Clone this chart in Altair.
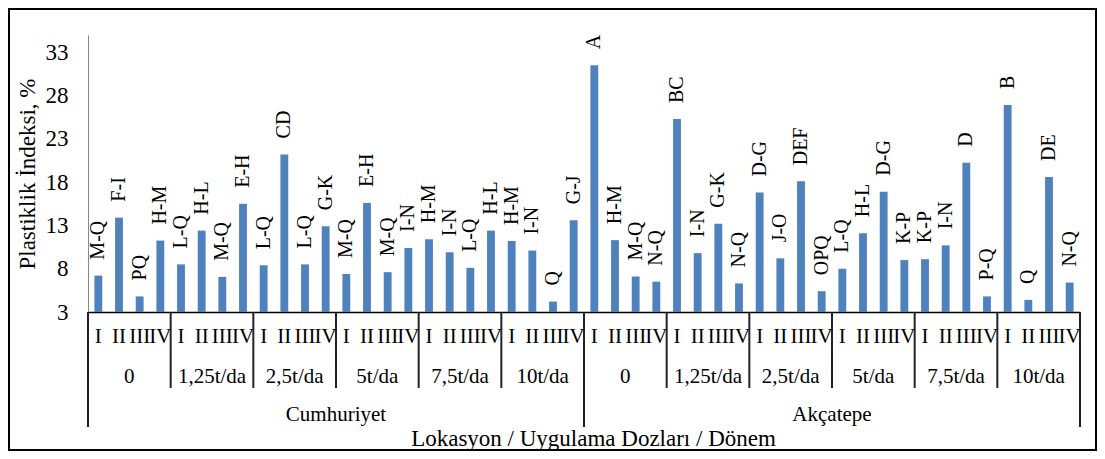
import altair as alt
import pandas as pd

locations = ["Cumhuriyet", "Akçatepe"]
doses = ["0", "1,25t/da", "2,5t/da", "5t/da", "7,5t/da", "10t/da"]
periods = ["I", "II", "III", "IV"]

values = [
    7.2, 13.9, 4.8, 11.25, 8.5, 12.4, 7.06, 15.5, 8.4, 21.2, 8.5, 12.9,
    7.4, 15.6, 7.6, 10.4, 11.4, 9.9, 8.1, 12.4, 11.2, 10.1, 4.2, 13.6,
    31.5, 11.3, 7.1, 6.5, 25.3, 9.8, 13.2, 6.3, 16.8, 9.2, 18.1, 5.4,
    8.0, 12.1, 16.9, 9.0, 9.1, 10.7, 20.25, 4.8, 26.9, 4.4, 18.6, 6.4,
]
letters = [
    "M-Q", "F-I", "PQ", "H-M", "L-Q", "H-L", "M-Q", "E-H", "L-Q", "CD", "L-Q", "G-K",
    "M-Q", "E-H", "M-Q", "I-N", "H-M", "I-N", "L-Q", "H-L", "H-M", "I-N", "Q", "G-J",
    "A", "H-M", "M-Q", "N-Q", "BC", "I-N", "G-K", "N-Q", "D-G", "J-O", "DEF", "OPQ",
    "L-Q", "H-L", "D-G", "K-P", "K-P", "I-N", "D", "P-Q", "B", "Q", "DE", "N-Q",
]
y_ticks = [3, 8, 13, 18, 23, 28, 33]

FONT = "Liberation Serif"
BLUE = "#4F81BD"
W, H = 992, 277

rows = []
i = 0
for loc in locations:
    for d in doses:
        for p in periods:
            rows.append({"idx": i, "loc": loc, "dose": d, "period": p,
                         "value": values[i], "letter": letters[i], "base": y_ticks[0],
                         "x_lo": i + 0.31, "x_hi": i + 0.69, "xc": i + 0.5})
            i += 1
df = pd.DataFrame(rows)

n = len(df)
dose_df = pd.DataFrame([{"dose": d, "xc": 4 * k + 2}
                        for k, d in enumerate(doses * len(locations))])
loc_df = pd.DataFrame([{"loc": l, "xc": 24 * k + 12} for k, l in enumerate(locations)])
sep_short = pd.DataFrame({"b": [b for b in range(4, n, 4) if b % 24 != 0]})
sep_long = pd.DataFrame({"b": [0, 24, 48]})
frame_df = pd.DataFrame({"k": [0]})

xscale = alt.Scale(domain=[0, n], nice=False, zero=False)
yscale = alt.Scale(domain=[3, 35], nice=False, zero=False)

base = alt.Chart(df)

bars = base.mark_bar(color=BLUE).encode(
    x=alt.X("x_lo:Q", scale=xscale,
            axis=alt.Axis(labels=False, ticks=False, grid=False, domainColor="black",
                          domainWidth=1.5,
                          title="Lokasyon / Uygulama Dozları / Dönem",
                          titleFont=FONT, titleFontSize=23, titleFontWeight="normal",
                          titleColor="black", titleX=505, titleY=126,
                          titleAlign="center", titleBaseline="middle")),
    x2="x_hi:Q",
    y=alt.Y("value:Q", scale=yscale,
            axis=alt.Axis(values=y_ticks, ticks=False, grid=False, domainColor="#868686",
                          labelPadding=20, labelFont=FONT, labelFontSize=23,
                          labelColor="black",
                          title="Plastiklik İndeksi, %",
                          titleFont=FONT, titleFontSize=23, titleFontWeight="normal",
                          titleColor="black", titleX=-61, titleY=H / 2,
                          titleAngle=270, titleAlign="center", titleBaseline="middle")),
    y2="base:Q",
)

bar_labels = base.mark_text(angle=270, align="left", baseline="middle", dx=16,
                            font=FONT, fontSize=20, color="black").encode(
    x=alt.X("xc:Q", scale=xscale), y=alt.Y("value:Q", scale=yscale), text="letter:N")

period_labels = base.mark_text(baseline="middle", font=FONT, fontSize=21,
                               color="black").encode(
    x=alt.X("xc:Q", scale=xscale), y=alt.value(H + 25), text="period:N")

dose_labels = alt.Chart(dose_df).mark_text(baseline="middle", font=FONT, fontSize=21,
                                           color="black").encode(
    x=alt.X("xc:Q", scale=xscale), y=alt.value(H + 65), text="dose:N")

loc_labels = alt.Chart(loc_df).mark_text(baseline="middle", font=FONT, fontSize=21,
                                         color="black").encode(
    x=alt.X("xc:Q", scale=xscale), y=alt.value(H + 103), text="loc:N")

short_rules = alt.Chart(sep_short).mark_rule(color="#222222", strokeWidth=2).encode(
    x=alt.X("b:Q", scale=xscale), y=alt.value(H), y2=alt.value(H + 76))

long_rules = alt.Chart(sep_long).mark_rule(color="#222222", strokeWidth=2).encode(
    x=alt.X("b:Q", scale=xscale), y=alt.value(H), y2=alt.value(H + 115))

frame = alt.Chart(frame_df).mark_rect(fill=None, stroke="black", strokeWidth=2).encode(
    x=alt.value(-79), x2=alt.value(W + 16), y=alt.value(-26), y2=alt.value(H + 138))

chart = alt.layer(frame, bars, bar_labels, period_labels, dose_labels, loc_labels,
                  short_rules, long_rules).properties(
    width=W, height=H,
    autosize=alt.AutoSizeParams(type="none"),
    padding={"left": 80, "top": 27, "right": 17, "bottom": 139},
).configure_view(stroke=None)

chart.save("out.html", embed_options={"renderer": "svg", "actions": False})
